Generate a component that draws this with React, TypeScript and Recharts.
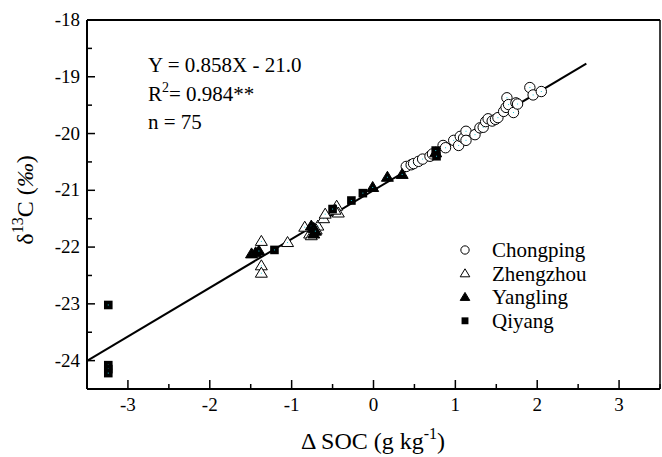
import React from "react";
import { ScatterChart, Scatter, XAxis, YAxis, ReferenceLine, Legend, Customized } from "recharts";

// ΔSOC (x) vs δ13C (y) for each site
const chongping: [number, number][] = [
  [0.40, -20.58], [0.46, -20.55], [0.49, -20.53], [0.55, -20.49], [0.60, -20.45],
  [0.69, -20.40], [0.72, -20.36], [0.85, -20.21], [0.88, -20.25], [0.98, -20.12],
  [1.04, -20.21], [1.06, -20.05], [1.10, -20.08], [1.13, -19.96], [1.13, -20.12],
  [1.24, -20.02], [1.30, -19.90], [1.34, -19.89], [1.37, -19.79], [1.40, -19.74],
  [1.45, -19.78], [1.49, -19.75], [1.52, -19.72], [1.59, -19.61], [1.62, -19.54],
  [1.63, -19.37], [1.65, -19.49], [1.71, -19.63], [1.74, -19.46], [1.76, -19.48],
  [1.91, -19.19], [1.95, -19.32], [2.05, -19.26],
];
const zhengzhou: [number, number][] = [
  [-1.37, -21.90], [-1.37, -22.33], [-1.37, -22.46], [-1.05, -21.92], [-0.84, -21.65],
  [-0.78, -21.77], [-0.76, -21.80], [-0.68, -21.63], [-0.70, -21.70], [-0.61, -21.50],
  [-0.59, -21.42], [-0.45, -21.28], [-0.43, -21.40], [-0.47, -21.35],
];
const yangling: [number, number][] = [
  [-1.49, -22.12], [-1.44, -22.10], [-1.40, -22.07], [-0.76, -21.63], [-0.73, -21.67],
  [-0.73, -21.77], [-0.71, -21.72], [-0.01, -20.95], [0.17, -20.77], [0.35, -20.72],
  [0.76, -20.34],
];
const qiyang: [number, number][] = [
  [-3.24, -23.02], [-3.24, -24.08], [-3.24, -24.15], [-3.24, -24.22], [-1.21, -22.05],
  [-0.50, -21.33], [-0.27, -21.18], [-0.13, -21.05], [0.76, -20.30], [0.77, -20.40],
];

const slope = 0.858;
const intercept = -21.0;
const fitRange = [-3.5, 2.6];

const xTicks = [-3.5, -3, -2.5, -2, -1.5, -1, -0.5, 0, 0.5, 1, 1.5, 2, 2.5, 3, 3.5];
const yTicks = [-24.5, -24, -23.5, -23, -22.5, -22, -21.5, -21, -20.5, -20, -19.5, -19, -18.5, -18];
const siteNames = ["Chongping", "Zhengzhou", "Yangling", "Qiyang"];

const font = "'Liberation Serif', 'Times New Roman', serif";
const toPts = (arr: [number, number][]) => arr.map(([x, y]) => ({ x, y }));

function Marker({ kind, cx, cy, s = 1 }: { kind: number; cx: number; cy: number; s?: number }) {
  const dot = s === 1 ? <rect x={cx - 0.5} y={cy - 0.5} width={1} height={1} fill="#22c8d8" /> : null;
  if (kind === 0)
    return <g><circle cx={cx} cy={cy} r={5.2 * s} fill="#fff" stroke="#000" strokeWidth={1} />{dot}</g>;
  if (kind === 1 || kind === 2) {
    const pts = `${cx},${cy - 6 * s} ${cx - 6 * s},${cy + 4 * s} ${cx + 6 * s},${cy + 4 * s}`;
    return (
      <g>
        <polygon points={pts} fill={kind === 1 ? "#fff" : "#000"} stroke="#000" strokeWidth={1} strokeLinejoin="miter" />
        {dot}
      </g>
    );
  }
  return <g><rect x={cx - 4.3 * s} y={cy - 4.3 * s} width={8.6 * s} height={8.6 * s} fill="#000" />{dot}</g>;
}

function XTick(p: any) {
  const v = p.payload.value;
  const major = Number.isInteger(v);
  return (
    <g>
      <line x1={p.x} x2={p.x} y1={p.y} y2={p.y - (major ? 9 : 5)} stroke="#000" strokeWidth={1.5} />
      {major && (
        <text x={p.x} y={p.y + 22} textAnchor="middle" fontSize={19} fontFamily={font} fill="#000">{v}</text>
      )}
    </g>
  );
}

function YTick(p: any) {
  const v = p.payload.value;
  const major = Number.isInteger(v);
  return (
    <g>
      <line x1={p.x} x2={p.x + (major ? 8 : 5)} y1={p.y} y2={p.y} stroke="#000" strokeWidth={1.5} />
      {major && (
        <text x={p.x - 7} y={p.y + 6} textAnchor="end" fontSize={19} fontFamily={font} fill="#000">{v}</text>
      )}
    </g>
  );
}

function LegendBox() {
  return (
    <svg width={150} height={100} style={{ display: "block" }}>
      {siteNames.map((n, i) => {
        const cy = 14 + i * 23.6;
        return (
          <g key={n}>
            <Marker kind={i} cx={13} cy={cy} s={0.8} />
            <text x={40} y={cy + 7} fontSize={21} fontFamily={font} fill="#000">{n}</text>
          </g>
        );
      })}
    </svg>
  );
}

function Texts() {
  return (
    <g fontFamily={font} fill="#000">
      <text x={148} y={72} fontSize={21}>Y = 0.858X - 21.0</text>
      <text x={148} y={101} fontSize={21}>
        R<tspan dy={-9} fontSize={14}>2</tspan><tspan dy={9}>= 0.984**</tspan>
      </text>
      <text x={148} y={129} fontSize={21}>n = 75</text>
      <text x={373} y={449} fontSize={24} textAnchor="middle">
        Δ SOC (g kg<tspan dy={-10} fontSize={16}>-1</tspan><tspan dy={10}>)</tspan>
      </text>
      <text x={33} y={200} fontSize={24} textAnchor="middle" transform="rotate(-90, 33, 200)">
        δ<tspan dy={-10} fontSize={16}>13</tspan><tspan dy={10}>C  (</tspan><tspan fontStyle="italic">‰</tspan>)
      </text>
    </g>
  );
}

export default function App() {
  return (
    <div style={{ position: "absolute", left: 0, top: 0, background: "#fff" }}>
      <ScatterChart width={662} height={457} margin={{ top: 20, right: 2, bottom: 0, left: 0 }}>
        <XAxis
          type="number"
          dataKey="x"
          domain={[-3.5, 3.5]}
          ticks={xTicks}
          interval={0}
          height={68}
          tickSize={0}
          tickMargin={0}
          tickLine={false}
          tick={XTick}
          axisLine={{ stroke: "#000", strokeWidth: 2 }}
        />
        <YAxis
          type="number"
          dataKey="y"
          domain={[-24.5, -18]}
          ticks={yTicks}
          interval={0}
          width={87}
          tickSize={0}
          tickMargin={0}
          tickLine={false}
          tick={YTick}
          axisLine={{ stroke: "#000", strokeWidth: 2 }}
        />
        <ReferenceLine y={-18} stroke="#000" strokeWidth={2} />
        <ReferenceLine x={3.5} stroke="#000" strokeWidth={1.5} />
        {[chongping, zhengzhou, yangling, qiyang].map((d, i) => (
          <Scatter
            key={siteNames[i]}
            name={siteNames[i]}
            data={toPts(d)}
            isAnimationActive={false}
            shape={(p: any) => <Marker kind={i} cx={p.cx} cy={p.cy} />}
          />
        ))}
        <ReferenceLine
          segment={[
            { x: fitRange[0], y: slope * fitRange[0] + intercept },
            { x: fitRange[1], y: slope * fitRange[1] + intercept },
          ]}
          stroke="#000"
          strokeWidth={2}
        />
        <Legend
          layout="vertical"
          align="center"
          verticalAlign="middle"
          wrapperStyle={{ left: 452, top: 236, width: 150 }}
          content={() => <LegendBox />}
        />
        <Customized component={() => <Texts />} />
      </ScatterChart>
    </div>
  );
}
